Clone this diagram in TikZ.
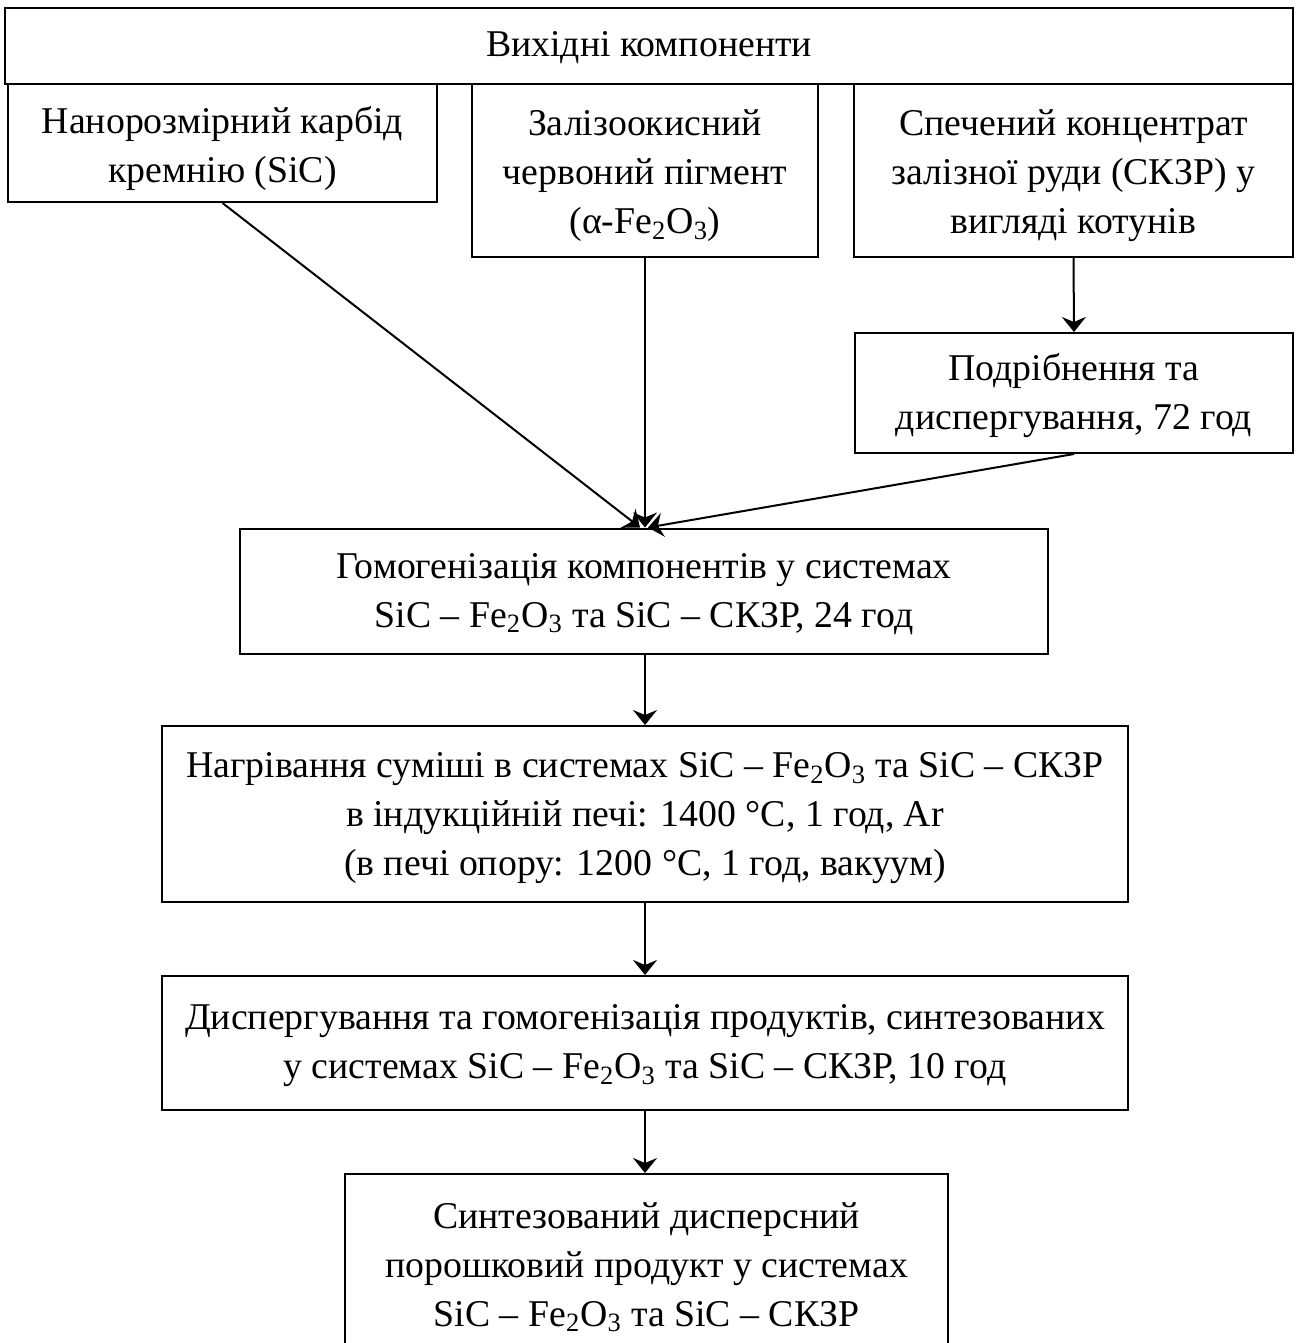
\documentclass[tikz,border=0pt]{standalone}
\usepackage{fontspec}
\setmainfont{Liberation Serif}
\usetikzlibrary{arrows.meta}
\begin{document}
\begin{tikzpicture}[x=0.5pt,y=-0.5pt,
  box/.style={draw,line width=1pt,rectangle,inner sep=0pt},
  txt/.style={inner sep=0pt,align=center,font=\fontsize{18.9}{24.5}\selectfont},
  arr/.style={-{Stealth[length=7.5pt,width=12pt,inset=2.5pt]},line width=1pt}]
\useasboundingbox (0,0) rectangle (1298,1343);
\node[box,minimum width=644pt,minimum height=38pt] (top) at (649,46) {};
\node[txt] (ttop) at ([yshift=-1pt]top.center) {Вихідні компоненти};
\node[box,minimum width=214.5pt,minimum height=59pt] (b1) at (222.5,143) {};
\node[txt] (t1) at ([yshift=-2.5pt]b1.center) {Нанорозмірний карбід\\кремнію (SiC)};
\node[box,minimum width=173pt,minimum height=86.5pt] (b2) at (645,170.5) {};
\node[txt] (t2) at ([yshift=-2.5pt]b2.center) {Залізоокисний\\червоний пігмент\\(α-Fe\textsubscript{2}O\textsubscript{3})};
\node[box,minimum width=219.5pt,minimum height=86.5pt] (b3) at (1073.5,170.5) {};
\node[txt] (t3) at ([yshift=-2.5pt]b3.center) {Спечений концентрат\\залізної руди (СКЗР) у\\вигляді котунів};
\node[box,minimum width=219pt,minimum height=60pt] (b4) at (1074,393) {};
\node[txt] (t4) at ([yshift=-1.5pt]b4.center) {Подрібнення та\\диспергування, 72 год};
\node[box,minimum width=404pt,minimum height=62.5pt] (b5) at (644,591) {};
\node[txt] (t5) at ([yshift=-1.5pt]b5.center) {Гомогенізація компонентів у системах\\SiC – Fe\textsubscript{2}O\textsubscript{3} та SiC – СКЗР, 24 год};
\node[box,minimum width=483pt,minimum height=88pt] (b6) at (645,814) {};
\node[txt] (t6) at ([yshift=-2pt]b6.center) {Нагрівання суміші в системах SiC – Fe\textsubscript{2}O\textsubscript{3} та SiC – СКЗР\\в індукційній печі: 1400 °C, 1 год, Ar\\(в печі опору: 1200 °C, 1 год, вакуум)};
\node[box,minimum width=483pt,minimum height=67pt] (b7) at (645,1043) {};
\node[txt] (t7) at ([yshift=-1.5pt]b7.center) {Диспергування та гомогенізація продуктів, синтезованих\\у системах SiC – Fe\textsubscript{2}O\textsubscript{3} та SiC – СКЗР, 10 год};
\node[box,minimum width=301.5pt,minimum height=89pt] (b8) at (646.5,1263) {};
\node[txt] (t8) at ([yshift=-2pt]b8.center) {Синтезований дисперсний\\порошковий продукт у системах\\SiC – Fe\textsubscript{2}O\textsubscript{3} та SiC – СКЗР};
\draw[arr] (b1.south) -- ([xshift=-2pt]b5.north);
\draw[arr] (b2.south) -- (b2.south |- b5.north);
\draw[arr] (b4.south) -- ([xshift=2pt]b5.north);
\draw[arr] (b3.south) -- (b4.north);
\draw[arr] (b2.south |- b5.south) -- (b2.south |- b6.north);
\draw[arr] (b2.south |- b6.south) -- (b2.south |- b7.north);
\draw[arr] (b2.south |- b7.south) -- (b2.south |- b8.north);
\end{tikzpicture}
\end{document}
